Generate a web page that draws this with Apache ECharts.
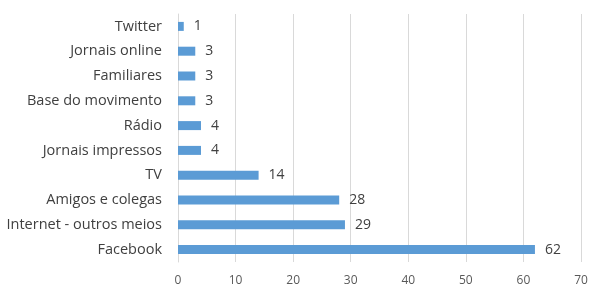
<!DOCTYPE html>
<html>
	<head>
		<meta charset="utf-8">
		<title>chart</title>
		<script src="https://cdn.jsdelivr.net/npm/echarts@6/dist/echarts.min.js"></script>
		<style>
			html, body { margin: 0; padding: 0; background: #fff; }
			#main { width: 597px; height: 295px; }
		</style>
	</head>
	<body>
		<div id="main"></div>
		<script type="text/javascript">
			// categories from bottom to top
			var categories = ["Facebook", "Internet - outros meios", "Amigos e colegas", "TV", "Jornais impressos",
				"Rádio", "Base do movimento", "Familiares", "Jornais online", "Twitter"];
			var values = [62, 29, 28, 14, 4, 4, 3, 3, 3, 1];
			var tickMin = 0, tickMax = 70, tickStep = 10;

			var chart = echarts.init(document.getElementById('main'));
			var font = '"Open Sans", sans-serif';
			var option = {
				animation: false,
				grid: { left: 178, right: 16, top: 14, bottom: 33, containLabel: false },
				xAxis: {
					type: 'value',
					min: tickMin, max: tickMax, interval: tickStep,
					axisLine: { show: false },
					axisTick: { show: false },
					axisLabel: { color: '#595959', fontSize: 12, fontFamily: font, margin: 13 },
					splitLine: { lineStyle: { color: '#d9d9d9', width: 1 } }
				},
				yAxis: {
					type: 'category',
					data: categories,
					axisLine: { show: true, lineStyle: { color: '#d9d9d9' } },
					axisTick: { show: false },
					axisLabel: { color: '#404040', fontSize: 14.5, fontFamily: font, margin: 16 }
				},
				series: [{
					type: 'bar',
					data: values,
					barWidth: 9,
					itemStyle: { color: '#5b9bd5' },
					label: { show: true, position: 'right', distance: 10, color: '#404040', fontSize: 14, fontFamily: font }
				}]
			};
			chart.setOption(option);
		</script>
	</body>
</html>
